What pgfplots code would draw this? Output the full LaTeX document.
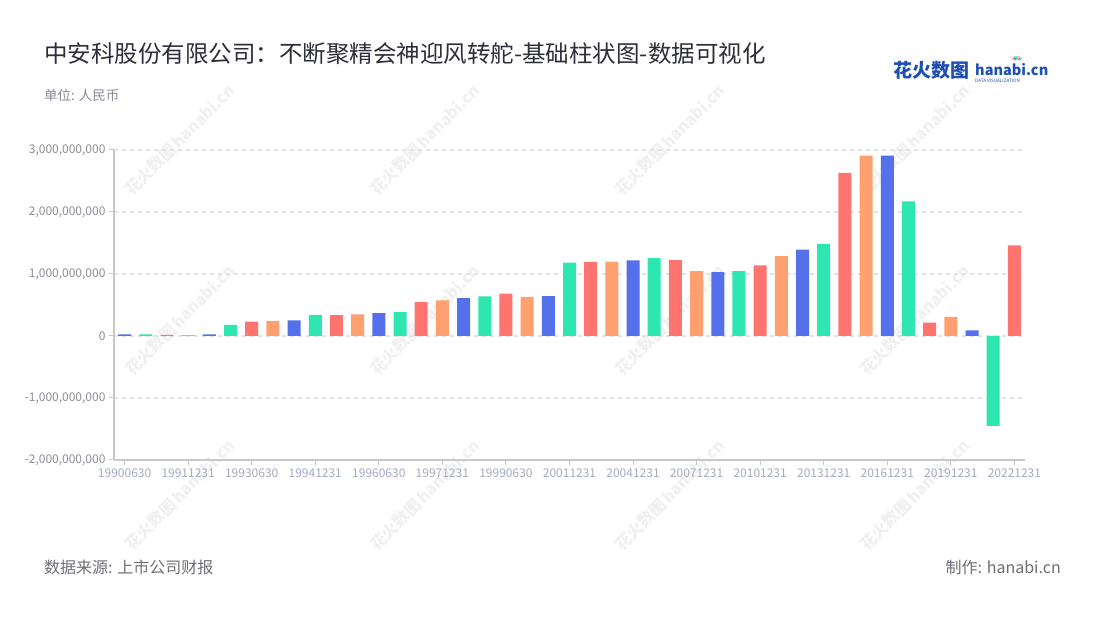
\documentclass[border=0pt]{standalone}
\usepackage{fontspec}
\setmainfont{Noto Sans CJK SC}
\usepackage{pgfplots}
\pgfplotsset{compat=1.18}
\definecolor{cblue}{HTML}{5470EB}
\definecolor{cgreen}{HTML}{2EE6B0}
\definecolor{cred}{HTML}{FF746E}
\definecolor{corange}{HTML}{FFA070}
\definecolor{axisgray}{HTML}{C8C8C8}
\definecolor{gridgray}{HTML}{E3E3E3}
\definecolor{ylab}{HTML}{8E8E96}
\definecolor{xlab}{HTML}{A3ABC2}
\definecolor{titlecol}{HTML}{2E2E3A}
\definecolor{subcol}{HTML}{8A8A96}
\definecolor{footcol}{HTML}{6E6E78}
\definecolor{logoblue}{HTML}{1E4FB4}
\begin{document}
\begin{tikzpicture}[x=1pt,y=1pt]
\path[use as bounding box, fill=white] (0,0) rectangle (1100,620);
% watermarks
\foreach \wx in {180,425,670,915}{
  \foreach \wy in {140,320,495}{
    \node[rotate=45, text=black!6, font=\fontsize{16}{16}\selectfont\bfseries, inner sep=0] at (\wx,620-\wy) {花火数图\,hanabi.cn};
  }}
\begin{axis}[
  at={(114pt,160pt)}, anchor=south west,
  width=911pt, height=310pt, scale only axis,
  xmin=-0.5, xmax=42.5, ymin=-2e9, ymax=3e9,
  axis x line=bottom, axis y line=left,
  axis line style={draw=axisgray, line width=1.3pt, -},
  tick align=outside, major tick length=5pt,
  tick style={draw=axisgray, line width=1pt},
  scaled y ticks=false,
  xtick={0,3,...,42},
  xticklabels={19900630,19911231,19930630,19941231,19960630,19971231,19990630,20011231,20041231,20071231,20101231,20131231,20161231,20191231,20221231},
  ytick={-2e9,-1e9,0,1e9,2e9,3e9},
  yticklabels={{-2,000,000,000},{-1,000,000,000},{0},{1,000,000,000},{2,000,000,000},{3,000,000,000}},
  ticklabel style={font=\fontsize{12}{12}\selectfont},
  xticklabel style={text=xlab},
  yticklabel style={text=ylab},
  ymajorgrids,
  grid style={draw=gridgray, line width=1.2pt, dash pattern=on 4pt off 4pt},
]
\addplot[ybar, bar width=13pt, fill=cblue, draw=none] coordinates {
(0,25000000) (4,25000000) (8,250000000) (12,370000000) (16,610000000) (20,645000000)
(24,1220000000) (28,1030000000) (32,1395000000) (36,2910000000) (40,90000000)};
\addplot[ybar, bar width=13pt, fill=cgreen, draw=none] coordinates {
(1,25000000) (5,180000000) (9,340000000) (13,390000000) (17,640000000) (21,1185000000)
(25,1255000000) (29,1045000000) (33,1485000000) (37,2170000000) (41,-1450000000)};
\addplot[ybar, bar width=13pt, fill=cred, draw=none] coordinates {
(2,20000000) (6,230000000) (10,335000000) (14,545000000) (18,685000000) (22,1195000000)
(26,1225000000) (30,1140000000) (34,2630000000) (38,216000000) (42,1460000000)};
\addplot[ybar, bar width=13pt, fill=corange, draw=none] coordinates {
(3,15000000) (7,245000000) (11,350000000) (15,575000000) (19,630000000) (23,1200000000)
(27,1045000000) (31,1290000000) (35,2910000000) (39,310000000)};
\end{axis}
% title and texts
\node[anchor=base west, inner sep=0, text=titlecol, font=\fontsize{23.5}{28}\selectfont] at (44,557) {中安科股份有限公司：不断聚精会神迎风转舵-基础柱状图-数据可视化};
\node[anchor=base west, inner sep=0, text=subcol, font=\fontsize{13.5}{16}\selectfont] at (44,519.5) {单位: 人民币};
\node[anchor=base west, inner sep=0, text=footcol, font=\fontsize{16}{18}\selectfont] at (44,46) {数据来源: 上市公司财报};
\node[anchor=base east, inner sep=0, text=footcol, font=\fontsize{16}{18}\selectfont] at (1061,46) {制作: hanabi.cn};
% logo
\node[anchor=base west, inner sep=0, text=logoblue, font=\fontsize{19}{20}\selectfont\bfseries] at (893,542) {花火数图};
\node[anchor=base west, inner sep=0, text=logoblue, font=\fontsize{14.5}{16}\selectfont\bfseries] at (975,544.5) {hanabi.cn};
\node[anchor=base west, inner sep=0, text=logoblue, font=\fontsize{4.6}{5}\selectfont] at (975,537) {DATA VISUALIZATION};
\foreach \ang/\col in {60/cred,80/corange,100/cgreen,120/cblue,40/cgreen,140/corange}{
  \draw[\col, line width=1.2pt] (1017,558)++(\ang:2.5) -- ++(\ang:3.5);
}
\end{tikzpicture}
\end{document}
